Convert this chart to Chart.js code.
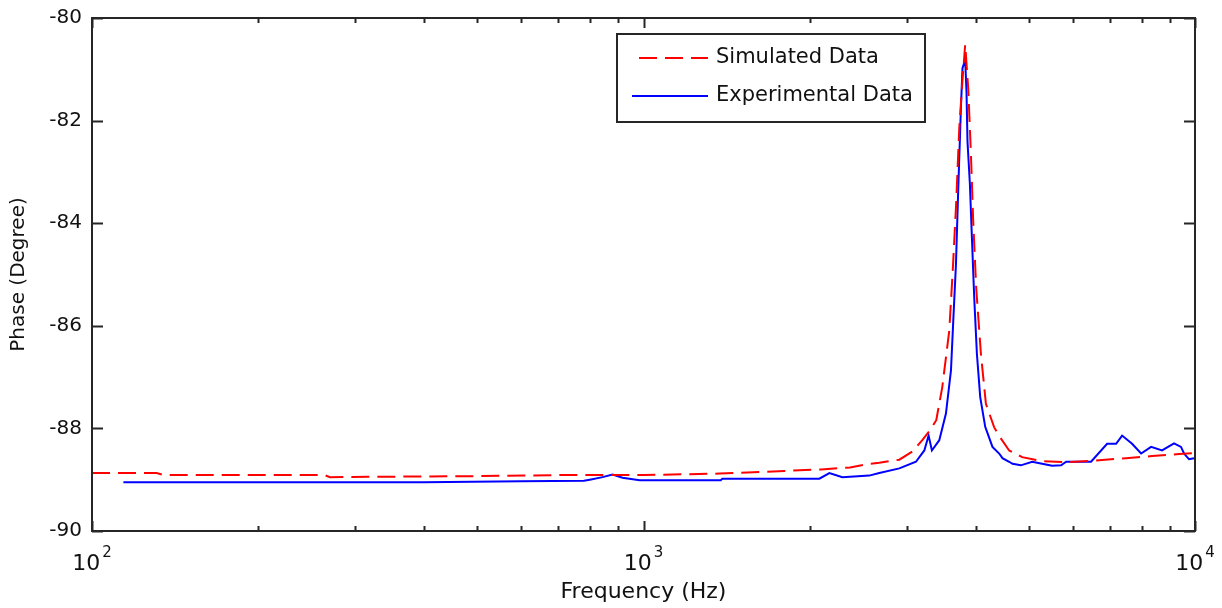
<!DOCTYPE html>
<html>
<head>
<meta charset="utf-8">
<script src="https://cdn.jsdelivr.net/npm/chart.js@4"></script>
<style>
  html, body { margin: 0; padding: 0; background: #fff; }
  #wrap { width: 1222px; height: 608px; }
</style>
</head>
<body>
<div id="wrap"><canvas id="phaseChart"></canvas></div>
<script>
// simulated phase
const freqSim = [100, 131, 135, 264, 270, 500, 706, 1000, 1375, 1800, 2100, 2370, 2567, 2676, 2910, 3072, 3203, 3300, 3395, 3481, 3584, 3634, 3686, 3737, 3788, 3831, 3880, 3924, 3961, 4011, 4091, 4177, 4324, 4415, 4603, 4860, 5282, 5839, 6700, 7499, 8360, 9355, 10000];
const phaseSim = [-88.87, -88.87, -88.91, -88.91, -88.95, -88.93, -88.91, -88.91, -88.88, -88.83, -88.80, -88.76, -88.69, -88.67, -88.61, -88.45, -88.23, -88.05, -87.84, -87.20, -86.10, -84.99, -83.70, -82.16, -81.20, -80.52, -81.38, -82.66, -83.96, -85.26, -86.55, -87.52, -87.98, -88.15, -88.43, -88.56, -88.64, -88.66, -88.62, -88.58, -88.54, -88.50, -88.48];

// measured phase
const freqExp = [114, 400, 600, 780, 799, 843, 879, 916, 984, 1380, 1390, 2084, 2173, 2294, 2567, 2676, 2910, 3119, 3230, 3288, 3334, 3438, 3535, 3610, 3645, 3686, 3722, 3763, 3788, 3831, 3852, 3868, 3907, 3940, 3978, 4023, 4079, 4165, 4293, 4415, 4476, 4603, 4667, 4833, 5067, 5282, 5507, 5718, 5839, 6479, 6928, 7193, 7376, 7690, 7985, 8325, 8715, 9162, 9432, 9552, 9752, 9958];
const phaseExp = [-89.05, -89.05, -89.03, -89.02, -89.00, -88.95, -88.90, -88.96, -89.01, -89.01, -88.98, -88.98, -88.87, -88.95, -88.92, -88.87, -88.78, -88.65, -88.43, -88.14, -88.43, -88.23, -87.71, -86.87, -85.90, -84.80, -83.31, -81.76, -80.98, -80.82, -81.44, -82.41, -83.24, -84.29, -85.45, -86.55, -87.39, -87.97, -88.36, -88.49, -88.58, -88.65, -88.69, -88.72, -88.65, -88.69, -88.73, -88.72, -88.65, -88.65, -88.30, -88.30, -88.14, -88.30, -88.49, -88.36, -88.43, -88.29, -88.36, -88.49, -88.60, -88.58];

const xDecades = [100, 1000, 10000];
const xExponents = ['2', '3', '4'];
const yTicks = [-90, -88, -86, -84, -82, -80];
const seriesNames = ['Simulated Data', 'Experimental Data'];

const FONT = 'DejaVu Sans';

const toPoints = (xs, ys) => xs.map((x, i) => ({ x: x, y: ys[i] }));

// box, inward ticks, x labels with exponents, legend
const matlabAxes = {
  id: 'matlabAxes',
  afterDraw(chart) {
    const ctx = chart.ctx;
    const a = chart.chartArea;
    const xs = chart.scales.x;
    const ys = chart.scales.y;
    ctx.save();
    ctx.strokeStyle = '#262626';
    ctx.lineWidth = 2;
    ctx.strokeRect(a.left, a.top, a.right - a.left, a.bottom - a.top);

    // x ticks (major + minor) bottom and top
    ctx.beginPath();
    for (let d = 100; d < 10000; d *= 10) {
      for (let m = 1; m <= 10; m++) {
        const v = d * m;
        if (v > 10000) break;
        const px = Math.round(xs.getPixelForValue(v)) + 0.5;
        const len = (m === 1 || m === 10) ? 10 : 5;
        ctx.moveTo(px, a.bottom); ctx.lineTo(px, a.bottom - len);
        ctx.moveTo(px, a.top); ctx.lineTo(px, a.top + len);
      }
    }
    yTicks.forEach(v => {
      const py = Math.round(ys.getPixelForValue(v)) + 0.5;
      ctx.moveTo(a.left, py); ctx.lineTo(a.left + 11, py);
      ctx.moveTo(a.right, py); ctx.lineTo(a.right - 11, py);
    });
    ctx.stroke();

    // x tick labels 10^n
    ctx.fillStyle = '#111';
    ctx.textBaseline = 'alphabetic';
    ctx.textAlign = 'left';
    xDecades.forEach((v, i) => {
      const px = xs.getPixelForValue(v);
      ctx.font = '22px "' + FONT + '"';
      const wb = ctx.measureText('10').width;
      ctx.font = '15px "' + FONT + '"';
      const we = ctx.measureText(xExponents[i]).width;
      const x0 = px - (wb + we + 2) / 2;
      ctx.font = '22px "' + FONT + '"';
      ctx.fillText('10', x0, 570);
      ctx.font = '15px "' + FONT + '"';
      ctx.fillText(xExponents[i], x0 + wb + 2, 557);
    });

    // legend
    const lx = 617, ly = 34, lw = 308, lh = 88;
    ctx.fillStyle = '#fff';
    ctx.fillRect(lx, ly, lw, lh);
    ctx.strokeStyle = '#262626';
    ctx.lineWidth = 2;
    ctx.strokeRect(lx, ly, lw, lh);
    chart.data.datasets.forEach((ds, i) => {
      const yy = i === 0 ? 58 : 96;
      ctx.beginPath();
      ctx.strokeStyle = ds.borderColor;
      ctx.lineWidth = 2;
      ctx.setLineDash(ds.borderDash || []);
      ctx.moveTo(i === 0 ? 639 : 632, yy);
      ctx.lineTo(708, yy);
      ctx.stroke();
      ctx.setLineDash([]);
      ctx.fillStyle = '#111';
      ctx.font = '21px "' + FONT + '"';
      ctx.textBaseline = 'middle';
      ctx.fillText(ds.label, 716, yy);
    });
    ctx.restore();
  }
};

new Chart(document.getElementById('phaseChart'), {
  type: 'line',
  data: {
    datasets: [{
      label: seriesNames[0],
      data: toPoints(freqSim, phaseSim),
      borderColor: '#ff0000',
      borderWidth: 2,
      borderDash: [18, 8],
      pointRadius: 0,
      tension: 0,
      fill: false
    }, {
      label: seriesNames[1],
      data: toPoints(freqExp, phaseExp),
      borderColor: '#0000ff',
      borderWidth: 2,
      pointRadius: 0,
      tension: 0,
      fill: false
    }]
  },
  options: {
    responsive: true,
    maintainAspectRatio: false,
    animation: false,
    layout: { padding: { left: 0, top: 18, right: 27, bottom: 0 } },
    plugins: { legend: { display: false }, tooltip: { enabled: false } },
    scales: {
      x: {
        type: 'logarithmic',
        min: 100,
        max: 10000,
        grid: { display: false },
        border: { display: false },
        ticks: { display: false },
        title: {
          display: true,
          text: 'Frequency (Hz)',
          color: '#111',
          font: { family: FONT, size: 22 },
          padding: { top: 0, bottom: 3 }
        },
        afterFit: s => { s.height = 77; }
      },
      y: {
        min: -90,
        max: -80,
        grid: { display: false },
        border: { display: false },
        ticks: {
          stepSize: 2,
          padding: 2,
          color: '#111',
          font: { family: FONT, size: 20 }
        },
        title: {
          display: true,
          text: 'Phase (Degree)',
          color: '#111',
          font: { family: FONT, size: 20 },
          padding: { top: 7, bottom: 0 }
        },
        afterFit: s => { s.width = 92; }
      }
    }
  },
  plugins: [matlabAxes]
});
</script>
</body>
</html>
